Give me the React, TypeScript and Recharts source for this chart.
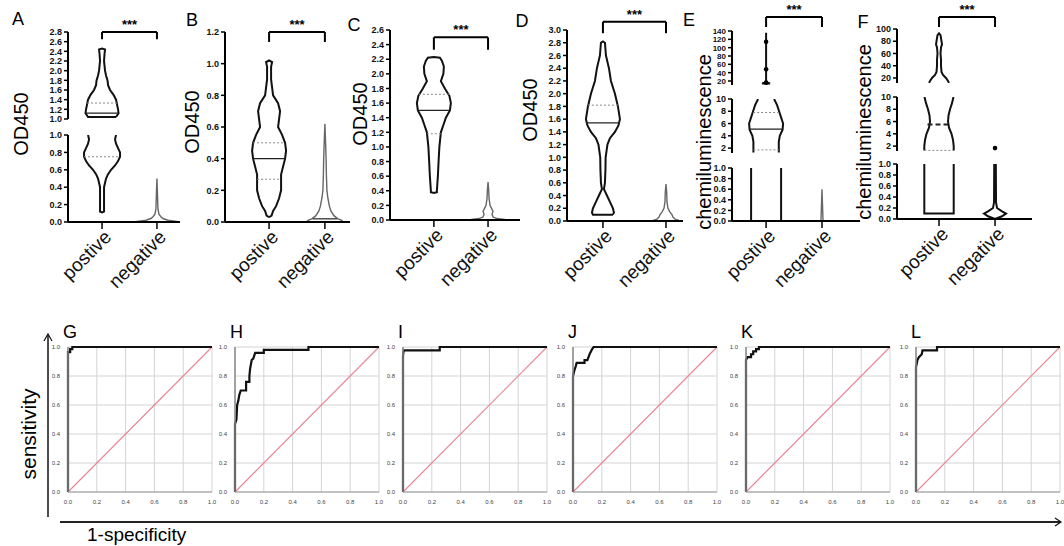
import React from 'react';
import { ComposedChart, LineChart, Line, Scatter, XAxis, YAxis, CartesianGrid, ReferenceLine } from 'recharts';

const FONT = '"Liberation Sans", Arial, sans-serif';
const TICK_FONT = '"Liberation Sans Narrow", "Liberation Sans", Arial, sans-serif';
const groups = ['postive', 'negative'];

type Pt = [number, number];
type Open = 'none' | 'top' | 'bottom' | 'both';

// tick labels
const odTicks12 = [0, 0.2, 0.4, 0.6, 0.8, 1.0, 1.2];
const odTicks26 = [0, 0.2, 0.4, 0.6, 0.8, 1.0, 1.2, 1.4, 1.6, 1.8, 2.0, 2.2, 2.4, 2.6];
const odTicks30 = [0, 0.2, 0.4, 0.6, 0.8, 1.0, 1.2, 1.4, 1.6, 1.8, 2.0, 2.2, 2.4, 2.6, 2.8, 3.0];
const odTicksHigh = [1.0, 1.2, 1.4, 1.6, 1.8, 2.0, 2.2, 2.4, 2.6, 2.8];
const unitTicks = [0, 0.2, 0.4, 0.6, 0.8, 1.0];
const midTicks = [2, 4, 6, 8, 10];
const eTopTicks = [20, 40, 60, 80, 100, 120, 140];
const fTopTicks = [20, 40, 60, 80, 100];
const rocTicks = [0, 0.2, 0.4, 0.6, 0.8, 1.0];

// violin profiles: [value, half width (px)]
const aPosTop: Pt[] = [[1.04, 14], [1.12, 16.5], [1.2, 16], [1.3, 15], [1.4, 14], [1.5, 11.5], [1.6, 8], [1.7, 6], [1.8, 5.5], [1.9, 4], [2.0, 3], [2.2, 2], [2.35, 2.5], [2.44, 3], [2.46, 0]];
const aPosBot: Pt[] = [[0.11, 0], [0.12, 2], [0.3, 2], [0.4, 2], [0.5, 4], [0.55, 6], [0.6, 9], [0.65, 13], [0.7, 16], [0.75, 18], [0.8, 18], [0.85, 16], [0.9, 14], [0.95, 13], [1.0, 14]];
const aNeg: Pt[] = [[0, 24], [0.01, 18], [0.02, 11], [0.04, 6], [0.06, 4], [0.09, 2], [0.15, 1], [0.3, 0.6], [0.5, 0]];
const bPos: Pt[] = [[0.03, 0], [0.04, 2.5], [0.07, 4], [0.1, 7], [0.15, 10], [0.2, 12], [0.25, 12], [0.3, 12], [0.35, 14], [0.4, 16], [0.45, 17], [0.5, 16], [0.55, 13], [0.6, 9], [0.65, 10], [0.7, 11], [0.75, 9], [0.8, 4], [0.9, 2], [0.98, 2], [1.01, 3], [1.02, 0]];
const bNeg: Pt[] = [[0, 18], [0.01, 17], [0.02, 13], [0.04, 9], [0.07, 6], [0.1, 4.5], [0.15, 3], [0.2, 2], [0.3, 1.5], [0.4, 1.2], [0.5, 0.7], [0.62, 0]];
const cPos: Pt[] = [[0.37, 0], [0.38, 3], [0.4, 3], [0.6, 4], [0.8, 4.7], [1.0, 5.5], [1.2, 7], [1.3, 9.5], [1.4, 12], [1.5, 16], [1.6, 17], [1.7, 15.5], [1.8, 11], [1.9, 7], [2.0, 9.5], [2.1, 10], [2.18, 8], [2.22, 6], [2.23, 0]];
const cNeg: Pt[] = [[0, 19], [0.01, 15], [0.02, 9], [0.04, 5], [0.08, 4], [0.12, 5], [0.16, 3.5], [0.2, 2], [0.3, 1], [0.4, 0.7], [0.52, 0]];
const dPos: Pt[] = [[0.1, 10], [0.13, 11], [0.2, 10], [0.3, 7], [0.4, 4], [0.5, 1], [0.6, 2], [0.8, 2.5], [1.0, 2.7], [1.2, 4.5], [1.3, 7], [1.4, 12], [1.5, 15.5], [1.6, 17], [1.8, 15], [2.0, 12], [2.2, 8], [2.4, 6], [2.6, 3], [2.8, 2], [2.82, 0]];
const dNeg: Pt[] = [[0, 16], [0.01, 13], [0.03, 9], [0.06, 7], [0.1, 6], [0.14, 4], [0.2, 2], [0.3, 1], [0.45, 0.7], [0.58, 0]];
const ePosTop: Pt[] = [[14, 4], [16, 1.5], [20, 0], [136, 0]];
const ePosMid: Pt[] = [[1.3, 12.7], [2, 12.7], [3, 12.7], [4, 13.7], [5, 16.5], [6, 17], [7, 15], [8, 13], [9, 11], [10, 8]];
const ePosBot: Pt[] = [[0, 15], [1, 15]];
const eNeg: Pt[] = [[0, 1.5], [0.02, 1], [0.6, 0]];
const eDots: Pt[] = [[1, 114], [1, 48], [1, 16]];
const fPosTop: Pt[] = [[12, 10], [15, 9], [20, 7], [25, 4], [30, 2.5], [40, 2], [50, 2], [60, 1.5], [70, 2], [75, 3], [80, 2.5], [90, 1.5], [93, 0]];
const fPosMid: Pt[] = [[1.3, 14.7], [2, 14.7], [3, 14], [4, 12.5], [5, 10], [6, 9], [7, 9.5], [8, 11], [9, 13], [10, 14.5]];
const fPosBot: Pt[] = [[0.1, 14.7], [1.0, 14.7]];
const fNegBot: Pt[] = [[0, 0], [0.05, 7], [0.1, 11], [0.14, 7], [0.2, 2], [0.3, 1], [1.0, 0.8]];
const fDots: Pt[] = [[2, 1.67]];

// ROC curves: [1-specificity, sensitivity]
const rocG: Pt[] = [[0, 0], [0, 0.965], [0.015, 0.965], [0.015, 0.985], [0.03, 0.985], [0.03, 1], [1, 1]];
const rocH: Pt[] = [[0, 0], [0, 0.47], [0.01, 0.5], [0.015, 0.6], [0.023, 0.63], [0.03, 0.67], [0.04, 0.7], [0.077, 0.7], [0.077, 0.76], [0.1, 0.76], [0.1, 0.8], [0.105, 0.85], [0.116, 0.91], [0.127, 0.92], [0.14, 0.96], [0.2, 0.96], [0.2, 0.98], [0.51, 0.98], [0.51, 1], [1, 1]];
const rocI: Pt[] = [[0, 0], [0, 0.94], [0.005, 0.977], [0.255, 0.977], [0.255, 1], [1, 1]];
const rocJ: Pt[] = [[0, 0], [0, 0.8], [0.01, 0.84], [0.02, 0.87], [0.025, 0.89], [0.08, 0.89], [0.08, 0.91], [0.1, 0.91], [0.115, 0.95], [0.13, 0.98], [0.143, 1], [1, 1]];
const rocK: Pt[] = [[0, 0], [0, 0.91], [0.01, 0.93], [0.035, 0.93], [0.035, 0.95], [0.05, 0.95], [0.05, 0.97], [0.07, 0.97], [0.07, 0.985], [0.09, 0.985], [0.09, 1], [1, 1]];
const rocL: Pt[] = [[0, 0], [0, 0.86], [0.01, 0.91], [0.02, 0.93], [0.04, 0.95], [0.045, 0.977], [0.146, 0.977], [0.146, 1], [1, 1]];
const diagonal: Pt[] = [[0, 0], [1, 1]];

interface Piece { prof: Pt[]; open: Open; cat: number; neg?: boolean }
interface Mark { cat: number; v: number; w: number; kind: 'median' | 'quart' | 'dash' }
interface Seg { dom: [number, number]; ticks: number[]; dec: number; y0: number; y1: number; pieces: Piece[]; marks: Mark[]; dots?: Pt[]; small?: boolean }
interface Panel { letter: string; lx: number; ly: number; yLabel: string; yx: number; yy: number; axisX: number; plotW: number; xDom: [number, number]; bracket: [number, number]; segs: Seg[] }

const panels: Panel[] = [
  {
    letter: 'A', lx: 18, ly: 19, yLabel: 'OD450', yx: 21, yy: 124, axisX: 68, plotW: 112, xDom: [0.38, 2.42], bracket: [2.8, 2.65],
    segs: [
      { dom: [1, 2.8], ticks: odTicksHigh, dec: 1, y0: 32, y1: 119, pieces: [{ prof: aPosTop, open: 'none', cat: 1 }], marks: [{ cat: 1, v: 1.12, w: 16, kind: 'median' }, { cat: 1, v: 1.33, w: 15, kind: 'quart' }] },
      { dom: [0, 1], ticks: unitTicks, dec: 1, y0: 135, y1: 222, pieces: [{ prof: aPosBot, open: 'top', cat: 1 }, { prof: aNeg, open: 'none', cat: 2, neg: true }], marks: [{ cat: 1, v: 0.75, w: 18, kind: 'quart' }] },
    ],
  },
  {
    letter: 'B', lx: 192, ly: 20, yLabel: 'OD450', yx: 192, yy: 122, axisX: 225, plotW: 125, xDom: [0.21, 2.45], bracket: [1.2, 1.137],
    segs: [
      { dom: [0, 1.2], ticks: odTicks12, dec: 1, y0: 32, y1: 222, pieces: [{ prof: bPos, open: 'none', cat: 1 }, { prof: bNeg, open: 'none', cat: 2, neg: true }], marks: [{ cat: 1, v: 0.4, w: 16, kind: 'median' }, { cat: 1, v: 0.27, w: 12, kind: 'quart' }, { cat: 1, v: 0.5, w: 16, kind: 'quart' }, { cat: 2, v: 0.02, w: 12, kind: 'median' }] },
    ],
  },
  {
    letter: 'C', lx: 354, ly: 25, yLabel: 'OD450', yx: 360, yy: 114, axisX: 390, plotW: 130, xDom: [0.19, 2.59], bracket: [2.5, 2.33],
    segs: [
      { dom: [0, 2.6], ticks: odTicks26, dec: 1, y0: 30, y1: 220, pieces: [{ prof: cPos, open: 'none', cat: 1 }, { prof: cNeg, open: 'none', cat: 2, neg: true }], marks: [{ cat: 1, v: 1.5, w: 16, kind: 'median' }, { cat: 1, v: 1.72, w: 15, kind: 'quart' }, { cat: 1, v: 1.18, w: 7, kind: 'quart' }] },
    ],
  },
  {
    letter: 'D', lx: 522, ly: 21, yLabel: 'OD450', yx: 530, yy: 110, axisX: 567, plotW: 116, xDom: [0.43, 2.27], bracket: [3.13, 2.95],
    segs: [
      { dom: [0, 3], ticks: odTicks30, dec: 1, y0: 30, y1: 221, pieces: [{ prof: dPos, open: 'none', cat: 1 }, { prof: dNeg, open: 'none', cat: 2, neg: true }], marks: [{ cat: 1, v: 1.54, w: 17, kind: 'median' }, { cat: 1, v: 1.82, w: 15, kind: 'quart' }] },
    ],
  },
  {
    letter: 'E', lx: 689, ly: 20, yLabel: 'chemiluminescence', yx: 704, yy: 142, axisX: 732, plotW: 128, xDom: [0.39, 2.68], bracket: [173.6, 149.6],
    segs: [
      { dom: [10.4, 140], ticks: eTopTicks, dec: 0, y0: 31, y1: 85, small: true, pieces: [{ prof: ePosTop, open: 'none', cat: 1 }], marks: [], dots: eDots },
      { dom: [1.2, 10], ticks: midTicks, dec: 0, y0: 99, y1: 153, pieces: [{ prof: ePosMid, open: 'both', cat: 1 }], marks: [{ cat: 1, v: 5.1, w: 16.5, kind: 'median' }, { cat: 1, v: 7.8, w: 13, kind: 'quart' }, { cat: 1, v: 1.7, w: 12.7, kind: 'quart' }] },
      { dom: [0, 1], ticks: unitTicks, dec: 1, y0: 168, y1: 221, pieces: [{ prof: ePosBot, open: 'both', cat: 1 }, { prof: eNeg, open: 'none', cat: 2, neg: true }], marks: [] },
    ],
  },
  {
    letter: 'F', lx: 863, ly: 22, yLabel: 'chemiluminescence', yx: 864, yy: 132, axisX: 897, plotW: 135, xDom: [0.25, 2.66], bracket: [119.6, 103.3],
    segs: [
      { dom: [11.8, 100], ticks: fTopTicks, dec: 0, y0: 29, y1: 83, pieces: [{ prof: fPosTop, open: 'bottom', cat: 1 }], marks: [] },
      { dom: [1.2, 10], ticks: midTicks, dec: 0, y0: 97, y1: 151, pieces: [{ prof: fPosMid, open: 'both', cat: 1 }], marks: [{ cat: 1, v: 5.5, w: 11.5, kind: 'dash' }, { cat: 1, v: 1.3, w: 14.7, kind: 'quart' }], dots: fDots },
      { dom: [0, 1], ticks: unitTicks, dec: 1, y0: 164, y1: 219, pieces: [{ prof: fPosBot, open: 'top', cat: 1 }, { prof: fNegBot, open: 'top', cat: 2 }], marks: [] },
    ],
  },
];

const rocPanels = [
  { letter: 'G', left: 68, pts: rocG },
  { letter: 'H', left: 235, pts: rocH },
  { letter: 'I', left: 403, pts: rocI },
  { letter: 'J', left: 573, pts: rocJ },
  { letter: 'K', left: 746, pts: rocK },
  { letter: 'L', left: 916, pts: rocL },
];

const toXY = (pts: Pt[]) => pts.map(([x, y]) => ({ x, y }));

function outline(pc: Piece, k: number) {
  const R = pc.prof.map(([v, w]) => ({ x: pc.cat + w / k, y: v as number | null }));
  const L = pc.prof.map(([v, w]) => ({ x: pc.cat - w / k, y: v as number | null }));
  const Lr = [...L].reverse();
  if (pc.open === 'bottom') return [...R, ...Lr];
  if (pc.open === 'top') return [...Lr, ...R];
  if (pc.open === 'both') return [...L, { x: pc.cat, y: null }, ...R];
  return [...R, ...Lr, R[0]];
}

const markStyle = {
  median: { stroke: '#222', strokeWidth: 1.2, strokeDasharray: undefined as string | undefined },
  quart: { stroke: '#888', strokeWidth: 1, strokeDasharray: '2 2' },
  dash: { stroke: '#222', strokeWidth: 2, strokeDasharray: '5 3' },
};

// rotated group name under each violin
const CatTick = (props: any) => {
  const { x, y, payload } = props;
  const ax = x + 3;
  return (
    <text
      x={ax}
      y={y}
      dy="0.55em"
      transform={`rotate(-45, ${ax}, ${y})`}
      textAnchor="end"
      fontSize={19}
      fill="#111"
      fontFamily={FONT}
    >
      {groups[payload.value - 1]}
    </text>
  );
};

const YW = 40;

function SegChart({ p, s, idx }: { p: Panel; s: Seg; idx: number }) {
  const first = idx === 0;
  const last = idx === p.segs.length - 1;
  const k = p.plotW / (p.xDom[1] - p.xDom[0]);
  const mTop = first ? 34 : 4;
  const mBot = last ? 100 : 4;
  const h = s.y1 - s.y0;
  const br = p.bracket;
  const brStyle = { stroke: '#000', strokeWidth: 2, ifOverflow: 'visible' as const };
  return (
    <div style={{ position: 'absolute', left: p.axisX - YW, top: s.y0 - mTop }}>
      <ComposedChart width={YW + p.plotW + 12} height={mTop + h + mBot} margin={{ top: mTop, right: 12, bottom: last ? 0 : mBot, left: 0 }}>
        <XAxis
          type="number"
          dataKey="x"
          domain={p.xDom}
          allowDataOverflow
          hide={!last}
          ticks={[1, 2]}
          interval={0}
          height={mBot}
          tickSize={7}
          tickMargin={2}
          tick={<CatTick />}
          axisLine={{ stroke: '#000', strokeWidth: 2 }}
          tickLine={{ stroke: '#000', strokeWidth: 1.5 }}
        />
        <YAxis
          type="number"
          domain={s.dom}
          allowDataOverflow
          ticks={s.ticks}
          interval={0}
          width={YW}
          tickSize={4}
          tickMargin={2}
          tickFormatter={(v: number) => v.toFixed(s.dec)}
          tick={{ fontSize: s.small ? 8 : 9, fontWeight: 'bold', fill: '#111', fontFamily: TICK_FONT }}
          axisLine={{ stroke: '#000', strokeWidth: 2 }}
          tickLine={{ stroke: '#000', strokeWidth: 1.5 }}
        />
        {s.pieces.map((pc, i) => (
          <Line
            key={'v' + i}
            data={outline(pc, k)}
            dataKey="y"
            type="linear"
            stroke={pc.neg ? '#666' : '#111'}
            strokeWidth={pc.neg ? 1.4 : 2}
            dot={false}
            activeDot={false}
            connectNulls={false}
            isAnimationActive={false}
          />
        ))}
        {s.marks.map((m, i) => (
          <Line
            key={'m' + i}
            data={[{ x: m.cat - m.w / k, y: m.v }, { x: m.cat + m.w / k, y: m.v }]}
            dataKey="y"
            type="linear"
            {...markStyle[m.kind]}
            dot={false}
            activeDot={false}
            isAnimationActive={false}
          />
        ))}
        {s.dots && (
          <Scatter
            data={toXY(s.dots)}
            dataKey="y"
            fill="#000"
            isAnimationActive={false}
            shape={(props: any) => <circle cx={props.cx} cy={props.cy} r={2.3} fill="#000" />}
          />
        )}
        {first && (
          <ReferenceLine
            segment={[{ x: 1, y: br[0] }, { x: 2, y: br[0] }]}
            {...brStyle}
            label={{ value: '***', position: 'top', fontSize: 13, fontWeight: 'bold', fill: '#000', offset: 3, fontFamily: FONT }}
          />
        )}
        {first && <ReferenceLine segment={[{ x: 1, y: br[0] }, { x: 1, y: br[1] }]} {...brStyle} />}
        {first && <ReferenceLine segment={[{ x: 2, y: br[0] }, { x: 2, y: br[1] }]} {...brStyle} />}
      </ComposedChart>
    </div>
  );
}

function RocChart({ letter, left, pts }: { letter: string; left: number; pts: Pt[] }) {
  const RW = 16;
  return (
    <>
      <div style={{ position: 'absolute', left: left - 5, top: 323, fontSize: 18, fontFamily: FONT, lineHeight: 1 }}>{letter}</div>
      <div style={{ position: 'absolute', left: left - RW, top: 343 }}>
        <LineChart width={RW + 144 + 8} height={4 + 145 + 14} margin={{ top: 4, right: 8, bottom: 0, left: 0 }}>
          <CartesianGrid stroke="#d4d4d4" strokeWidth={1} />
          <XAxis
            type="number"
            dataKey="x"
            domain={[0, 1]}
            ticks={rocTicks}
            interval={0}
            height={14}
            tickLine={false}
            tickMargin={2}
            tickFormatter={(v: number) => v.toFixed(1)}
            tick={{ fontSize: 6, fill: '#444', fontFamily: FONT }}
            axisLine={{ stroke: '#999' }}
          />
          <YAxis
            type="number"
            domain={[0, 1]}
            ticks={rocTicks}
            interval={0}
            width={RW}
            tickLine={false}
            tickMargin={2}
            tickFormatter={(v: number) => v.toFixed(1)}
            tick={{ fontSize: 6, fill: '#444', fontFamily: FONT }}
            axisLine={{ stroke: '#888', strokeWidth: 1.5 }}
          />
          <Line data={toXY(diagonal)} dataKey="y" type="linear" stroke="#e98696" strokeWidth={1.1} dot={false} activeDot={false} isAnimationActive={false} />
          <Line data={toXY(pts)} dataKey="y" type="linear" stroke="#111" strokeWidth={2.2} dot={false} activeDot={false} isAnimationActive={false} />
        </LineChart>
      </div>
    </>
  );
}

export default function App() {
  return (
    <div style={{ position: 'absolute', left: 0, top: 0, width: 1064, height: 546, background: '#fff', fontFamily: FONT, overflow: 'hidden' }}>
      {panels.map((p) => (
        <React.Fragment key={p.letter}>
          <div style={{ position: 'absolute', left: p.lx, top: p.ly, transform: 'translate(-50%, -50%)', fontSize: 18, lineHeight: 1 }}>{p.letter}</div>
          <div style={{ position: 'absolute', left: p.yx, top: p.yy, transform: 'translate(-50%, -50%) rotate(-90deg)', fontSize: 20, lineHeight: 1, whiteSpace: 'nowrap' }}>{p.yLabel}</div>
          {p.segs.map((s, i) => (
            <SegChart key={i} p={p} s={s} idx={i} />
          ))}
        </React.Fragment>
      ))}
      {rocPanels.map((r) => (
        <RocChart key={r.letter} {...r} />
      ))}
      <svg width={1064} height={546} style={{ position: 'absolute', left: 0, top: 0, pointerEvents: 'none' }}>
        <line x1={48} y1={517} x2={48} y2={335} stroke="#111" strokeWidth={1.5} />
        <polyline points="44,341 48,334 52,341" fill="none" stroke="#111" strokeWidth={1.2} />
        <line x1={60} y1={522} x2={1060} y2={522} stroke="#222" strokeWidth={2} />
        <polyline points="1055,518 1061,522 1055,526" fill="none" stroke="#111" strokeWidth={1.2} />
      </svg>
      <div style={{ position: 'absolute', left: 28, top: 434, transform: 'translate(-50%, -50%) rotate(-90deg)', fontSize: 21, lineHeight: 1, whiteSpace: 'nowrap' }}>sensitivity</div>
      <div style={{ position: 'absolute', left: 87, top: 525, fontSize: 19, lineHeight: 1, whiteSpace: 'nowrap' }}>1-specificity</div>
    </div>
  );
}
